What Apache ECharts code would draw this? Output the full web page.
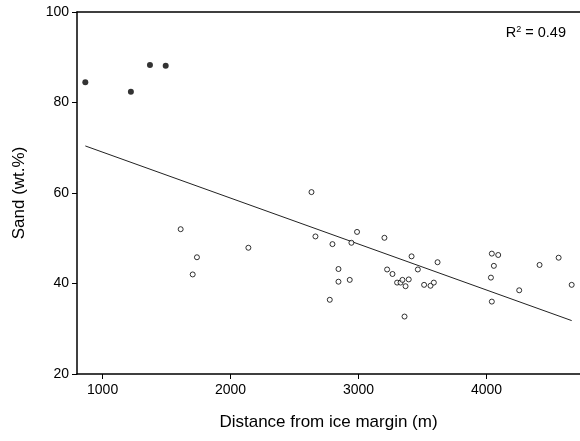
<!DOCTYPE html>
<html>
<head>
<meta charset="utf-8">
<script src="https://cdn.jsdelivr.net/npm/echarts@6/dist/echarts.min.js"></script>
<style>html,body{margin:0;padding:0;background:#fff}#c{width:580px;height:441px}</style>
</head>
<body>
<div id="c"></div>
<script>
// Filled (near-margin) samples
var filledX = [865, 1221, 1370, 1493];
var filledY = [84.5, 82.4, 88.3, 88.1];
// Open samples
var openX = [1610, 1737, 1704, 2139, 2632, 2663, 2796, 2988, 2944, 2843, 2843, 2931, 2775,
             3202, 3414, 3617, 3463, 3223, 3265, 3301, 3328, 3343, 3392, 3367, 3512, 3562, 3588, 3359,
             4041, 4091, 4057, 4034, 4041, 4255, 4414, 4563, 4665];
var openY = [52.0, 45.8, 42.0, 47.9, 60.2, 50.4, 48.7, 51.4, 49.0, 43.2, 40.4, 40.8, 36.4,
             50.1, 46.0, 44.7, 43.1, 43.1, 42.1, 40.2, 40.2, 40.8, 40.9, 39.4, 39.7, 39.5, 40.2, 32.7,
             46.6, 46.3, 43.9, 41.3, 36.0, 38.5, 44.1, 45.7, 39.7];
// Regression line end points
var fitX = [865, 4665];
var fitY = [70.4, 31.8];
var xTicks = [1000, 2000, 3000, 4000];
var yTicks = [20, 40, 60, 80, 100];
var r2Text = '0.49';

function zip(a, b) { return a.map(function (v, i) { return [v, b[i]]; }); }

var font = 'Liberation Sans, Arial, sans-serif';
var chart = echarts.init(document.getElementById('c'), null, {renderer: 'canvas'});
chart.setOption({
  backgroundColor: '#fff',
  animation: false,
  title: {
    text: '{r|R}{s|2}{r| = ' + r2Text + '}',
    right: 9, top: 20,
    textStyle: {
      fontWeight: 'normal',
      rich: {
        r: {fontFamily: font, fontSize: 14.5, fontWeight: 'normal', color: '#000'},
        s: {fontFamily: font, fontSize: 9, fontWeight: 'normal', color: '#000', verticalAlign: 'top', padding: [0, 0, 6, 0]}
      }
    }
  },
  grid: {left: 77, right: 0, top: 12, bottom: 67, containLabel: false},
  xAxis: [{
    type: 'value', min: 800, max: 4730,
    name: 'Distance from ice margin (m)', nameLocation: 'middle', nameGap: 40,
    nameTextStyle: {fontFamily: font, fontSize: 17, color: '#000'},
    axisLine: {lineStyle: {color: '#000', width: 1.5}},
    axisTick: {show: true, length: 5, lineStyle: {color: '#000', width: 1}, customValues: xTicks},
    axisLabel: {fontFamily: font, fontSize: 14, color: '#000', margin: 9, customValues: xTicks,
                formatter: function (v) { return String(v); }},
    splitLine: {show: false}
  }, {
    type: 'value', position: 'top', min: 800, max: 4730,
    axisLine: {show: true, lineStyle: {color: '#000', width: 1.5}},
    axisTick: {show: false}, axisLabel: {show: false}, splitLine: {show: false}
  }],
  yAxis: {
    type: 'value', min: 20, max: 100, interval: 20,
    name: 'Sand (wt.%)', nameLocation: 'middle', nameGap: 49, nameRotate: 90,
    nameTextStyle: {fontFamily: font, fontSize: 17, color: '#000'},
    axisLine: {show: true, lineStyle: {color: '#000', width: 1.5}},
    axisTick: {show: true, length: 5, lineStyle: {color: '#000', width: 1}},
    axisLabel: {fontFamily: font, fontSize: 14, color: '#000', margin: 8,
                formatter: function (v) { return String(v); }},
    splitLine: {show: false}
  },
  series: [{
    type: 'line', data: zip(fitX, fitY), showSymbol: false, symbol: 'none',
    lineStyle: {color: '#222', width: 1}, z: 1
  }, {
    type: 'scatter', data: zip(openX, openY), symbol: 'circle', symbolSize: 5,
    itemStyle: {color: '#fff', borderColor: '#000', borderWidth: 1}, z: 2
  }, {
    type: 'scatter', data: zip(filledX, filledY), symbol: 'circle', symbolSize: 6,
    itemStyle: {color: '#000'}, z: 3
  }]
});
</script>
</body>
</html>
